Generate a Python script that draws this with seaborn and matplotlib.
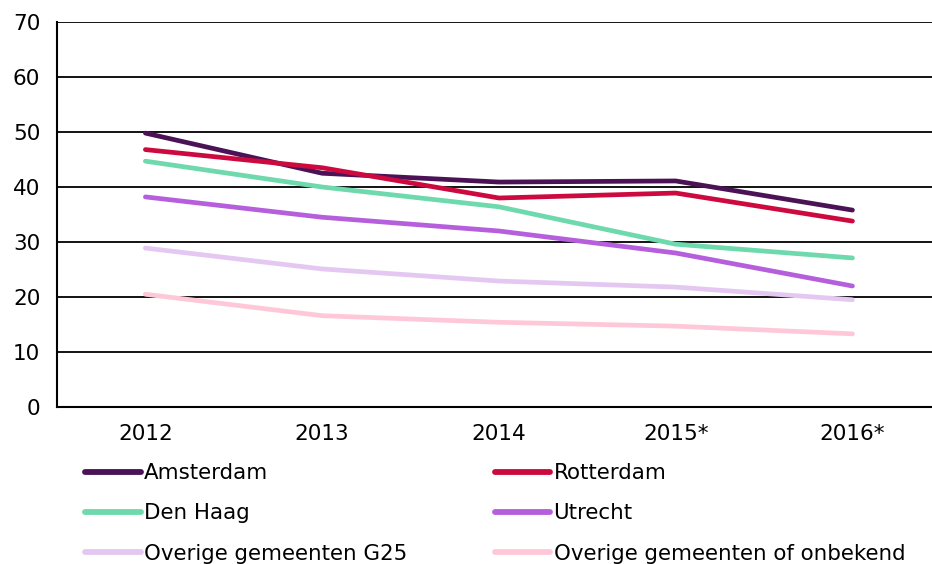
import pandas as pd
import matplotlib
matplotlib.use("Agg")
import matplotlib.pyplot as plt
import seaborn as sns

# Values
years = ["2012", "2013", "2014", "2015*", "2016*"]
series_names = ["Amsterdam", "Rotterdam", "Den Haag", "Utrecht",
                "Overige gemeenten G25", "Overige gemeenten of onbekend"]
amsterdam = [49.8, 42.5, 40.9, 41.1, 35.8]
rotterdam = [46.8, 43.5, 38.0, 38.9, 33.8]
den_haag = [44.7, 40.0, 36.4, 29.6, 27.1]
utrecht = [38.2, 34.5, 32.0, 28.0, 22.0]
overig_g25 = [28.9, 25.1, 22.9, 21.8, 19.5]
overig_onbekend = [20.5, 16.6, 15.4, 14.7, 13.3]
colors = ["#4b1356", "#cc0a3f", "#6ed9ad", "#b65fdc", "#e4c8f1", "#ffc8d8"]

values = [amsterdam, rotterdam, den_haag, utrecht, overig_g25, overig_onbekend]
rows = []
for name, vals in zip(series_names, values):
    for i, (yr, v) in enumerate(zip(years, vals)):
        rows.append({"pos": i, "year": yr, "gemeente": name, "value": v})
df = pd.DataFrame(rows)

sns.set_theme(style="white")
plt.rcParams["font.family"] = ["DejaVu Sans"]
plt.rcParams["text.color"] = "black"

fig = plt.figure(figsize=(9.32, 5.64), dpi=100)
ax = fig.add_axes([57 / 932, 1 - 407 / 564, 1 - 57 / 932, (407 - 22) / 564])

sns.lineplot(data=df, x="pos", y="value", hue="gemeente", hue_order=series_names,
             palette=colors, linewidth=3.4, ax=ax, legend=False,
             solid_capstyle="round")

ax.set_ylim(0, 70)
ax.set_xlim(-0.5, 4.45)
ax.set_yticks(range(0, 71, 10))
ax.set_xticks(range(len(years)))
ax.set_xticklabels(years)
ax.set_xlabel("")
ax.set_ylabel("")
ax.yaxis.grid(True, color="black", linewidth=1.3)
ax.set_axisbelow(True)
for side in ["top", "right"]:
    ax.spines[side].set_visible(False)
for side in ["left", "bottom"]:
    ax.spines[side].set_color("black")
    ax.spines[side].set_linewidth(1.5)
ax.tick_params(axis="both", length=0, labelsize=15.5, colors="black")
ax.tick_params(axis="y", pad=12)
ax.tick_params(axis="x", pad=12)

# legend: two columns, rows Amsterdam|Rotterdam, Den Haag|Utrecht, ...
handles = [plt.Line2D([], [], color=c, linewidth=4.2, solid_capstyle="round") for c in colors]
order = [0, 2, 4, 1, 3, 5]
fig.legend([handles[i] for i in order], [series_names[i] for i in order],
           ncol=2, loc="upper left", bbox_to_anchor=(85 / 932, 1 - 463 / 564),
           frameon=False, fontsize=15.4, handlelength=2.6, handletextpad=0.15,
           columnspacing=4.1, labelspacing=0.95, borderaxespad=0, borderpad=0,
           labelcolor="black")

fig.savefig("out.png", dpi=100)
